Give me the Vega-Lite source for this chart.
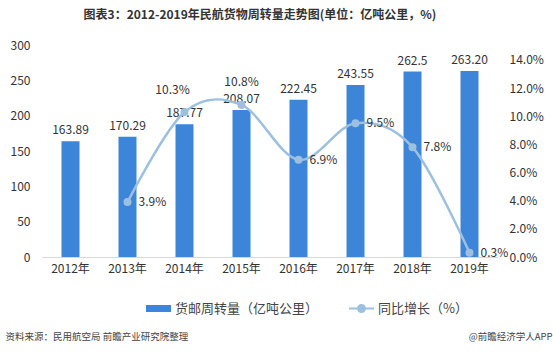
{
  "$schema": "https://vega.github.io/schema/vega-lite/v6.json",
  "autosize": {"type": "none"},
  "width": 456,
  "height": 212,
  "padding": {"left": 42, "top": 45, "right": 55, "bottom": 95},
  "background": "white",
  "title": {
    "text": "图表3：2012-2019年民航货物周转量走势图(单位：亿吨公里，%)",
    "font": "Noto Sans CJK SC",
    "fontSize": 12,
    "fontWeight": "bold",
    "color": "#333333",
    "anchor": "middle",
    "dx": -10,
    "offset": 17
  },
  "config": {
    "view": {"stroke": null},
    "font": "Noto Sans CJK SC",
    "axis": {"labelFont": "Noto Sans CJK SC", "titleFont": "Noto Sans CJK SC"},
    "legend": {"labelFont": "Noto Sans CJK SC"}
  },
  "data": {
    "values": [
      {"year": "2012年", "volume": 163.89, "volume_label": "163.89", "growth": null},
      {"year": "2013年", "volume": 170.29, "volume_label": "170.29", "growth": 0.039},
      {"year": "2014年", "volume": 187.77, "volume_label": "187.77", "growth": 0.103},
      {"year": "2015年", "volume": 208.07, "volume_label": "208.07", "growth": 0.108},
      {"year": "2016年", "volume": 222.45, "volume_label": "222.45", "growth": 0.069},
      {"year": "2017年", "volume": 243.55, "volume_label": "243.55", "growth": 0.095},
      {"year": "2018年", "volume": 262.5, "volume_label": "262.5", "growth": 0.078},
      {"year": "2019年", "volume": 263.2, "volume_label": "263.20", "growth": 0.003}
    ]
  },
  "encoding": {
    "x": {
      "field": "year",
      "type": "nominal",
      "sort": null,
      "scale": {"paddingInner": 0, "paddingOuter": 0},
      "axis": {
        "title": "资料来源：民用航空局 前瞻产业研究院整理",
        "titleAnchor": "start",
        "titleAlign": "left",
        "titleBaseline": "middle",
        "titleX": -37,
        "titleY": 79,
        "titleFontSize": 9.5,
        "titleFontWeight": "normal",
        "titleColor": "#444444",
        "labelAngle": 0,
        "labelFontSize": 12,
        "labelColor": "#333333",
        "labelPadding": 6,
        "ticks": false,
        "domainColor": "#d9d9d9",
        "domainWidth": 1,
        "grid": false
      }
    }
  },
  "layer": [
    {
      "encoding": {
        "y": {
          "field": "volume",
          "type": "quantitative",
          "scale": {"domain": [0, 300], "nice": false},
          "axis": {
            "title": null,
            "values": [0, 50, 100, 150, 200, 250, 300],
            "domain": false,
            "ticks": false,
            "grid": false,
            "labelFontSize": 12,
            "labelColor": "#333333",
            "labelPadding": 12
          }
        }
      },
      "layer": [
        {
          "mark": {"type": "bar", "size": 18},
          "encoding": {
            "fill": {
              "datum": "货邮周转量（亿吨公里）",
              "type": "nominal",
              "scale": {"range": ["#3d85d8"]},
              "legend": {
                "title": null,
                "orient": "none",
                "legendX": 103,
                "legendY": 250,
                "symbolType": "M-1,-0.28H1V0.28H-1Z",
                "symbolSize": 625,
                "labelFontSize": 13,
                "labelColor": "#444444",
                "labelOffset": 3
              }
            }
          }
        },
        {
          "mark": {"type": "text", "baseline": "bottom", "dy": -4, "fontSize": 12, "color": "#333333"},
          "encoding": {
            "text": {"field": "volume_label", "type": "nominal"}
          }
        }
      ]
    },
    {
      "transform": [{"filter": "datum.growth != null"}],
      "encoding": {
        "y": {
          "field": "growth",
          "type": "quantitative",
          "scale": {"domain": [0, 0.1506], "nice": false},
          "axis": {
            "orient": "right",
            "title": "@前瞻经济学人APP",
            "titleAngle": 0,
            "titleAlign": "right",
            "titleBaseline": "middle",
            "titleX": 54,
            "titleY": 291,
            "titleFontSize": 9.5,
            "titleFontWeight": "normal",
            "titleColor": "#444444",
            "values": [0, 0.02, 0.04, 0.06, 0.08, 0.1, 0.12, 0.14],
            "format": ".1%",
            "domain": false,
            "ticks": false,
            "grid": false,
            "labelFontSize": 12,
            "labelColor": "#333333",
            "labelPadding": 11
          }
        }
      },
      "layer": [
        {
          "mark": {
            "type": "line",
            "interpolate": "cardinal",
            "strokeWidth": 2.5,
            "point": {"filled": true, "size": 36, "color": "#9dc0e0"}
          },
          "encoding": {
            "stroke": {
              "datum": "同比增长（%）",
              "type": "nominal",
              "scale": {"range": ["#9dc0e0"]},
              "legend": {
                "title": null,
                "orient": "none",
                "legendX": 306,
                "legendY": 250,
                "symbolType": "M-1,0H1M0.28,0A0.28,0.28,0,1,1,-0.28,0A0.28,0.28,0,1,1,0.28,0",
                "symbolSize": 625,
                "symbolStrokeWidth": 2,
                "symbolFillColor": "#9dc0e0",
                "labelFontSize": 13,
                "labelColor": "#444444",
                "labelOffset": 3
              }
            }
          }
        },
        {
          "transform": [{"filter": "datum.year != '2014年' && datum.year != '2015年'"}],
          "mark": {"type": "text", "align": "left", "baseline": "middle", "dx": 11, "fontSize": 12, "color": "#333333"},
          "encoding": {
            "text": {"field": "growth", "type": "quantitative", "format": ".1%"}
          }
        },
        {
          "transform": [{"filter": "datum.year == '2014年'"}],
          "mark": {"type": "text", "align": "center", "baseline": "middle", "dx": -12, "dy": -22, "fontSize": 12, "color": "#333333"},
          "encoding": {
            "text": {"field": "growth", "type": "quantitative", "format": ".1%"}
          }
        },
        {
          "transform": [{"filter": "datum.year == '2015年'"}],
          "mark": {"type": "text", "align": "center", "baseline": "middle", "dx": 0, "dy": -23, "fontSize": 12, "color": "#333333"},
          "encoding": {
            "text": {"field": "growth", "type": "quantitative", "format": ".1%"}
          }
        }
      ]
    }
  ],
  "resolve": {"scale": {"y": "independent", "fill": "independent", "stroke": "independent"}}
}
